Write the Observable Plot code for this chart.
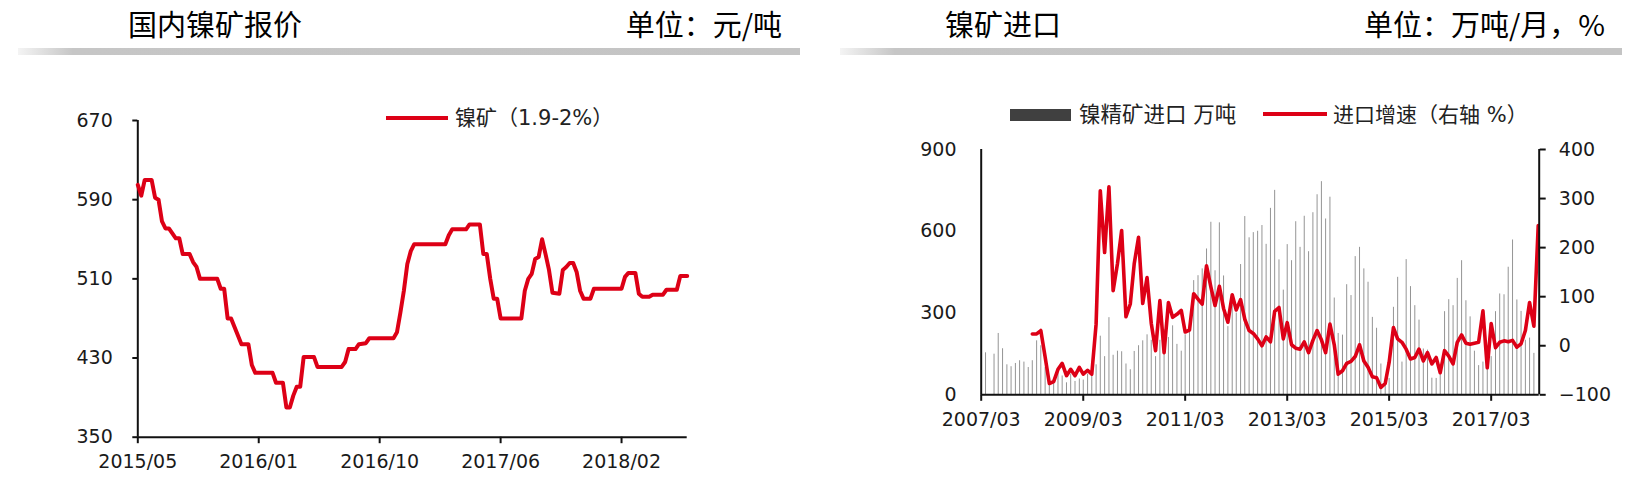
<!DOCTYPE html>
<html><head><meta charset="utf-8">
<script src="https://cdn.jsdelivr.net/npm/d3@7"></script>
<script src="https://cdn.jsdelivr.net/npm/@observablehq/plot@0.6"></script>
<style>
html,body{margin:0;padding:0;background:#fff;}
body{width:1647px;height:482px;overflow:hidden;position:relative;font-family:"Noto Sans CJK SC",sans-serif;}
.abs{position:absolute;}
.title{font-size:29px;line-height:29px;color:#000;white-space:nowrap;}
.gbar{height:7px;background:linear-gradient(to right,#f4f4f4 0%,#c6c6c6 7%,#c4c4c4 100%);}
.leg{font-family:"DejaVu Sans","Noto Sans CJK SC",sans-serif;color:#222;white-space:nowrap;}
.chart svg{display:block;}
</style></head><body>
<div class="abs title" style="left:128px;top:9px;">国内镍矿报价</div>
<div class="abs title" style="right:865px;top:9px;">单位：元/吨</div>
<div class="abs gbar" style="left:18px;top:48px;width:782px;"></div>
<div class="abs title" style="left:945px;top:9px;">镍矿进口</div>
<div class="abs title" style="right:42px;top:9px;">单位：万吨/月，%</div>
<div class="abs gbar" style="left:840px;top:48px;width:782px;"></div>

<div id="left" class="abs chart" style="left:0;top:80px;width:720px;height:400px;"></div>
<div id="rightBars" class="abs chart" style="left:840px;top:80px;width:807px;height:400px;"></div>
<div id="rightLine" class="abs chart" style="left:840px;top:80px;width:807px;height:400px;"></div>

<div class="abs" style="left:386px;top:116px;width:62px;height:4px;background:#dd0016;"></div>
<div class="abs leg" style="left:455px;top:105px;font-size:21px;line-height:26px;">镍矿（1.9-2%）</div>

<div class="abs" style="left:1010px;top:109px;width:61px;height:12px;background:#404040;"></div>
<div class="abs leg" style="left:1079px;top:101px;font-size:21.5px;line-height:28px;">镍精矿进口 万吨</div>
<div class="abs" style="left:1263px;top:112px;width:64px;height:4px;background:#dd0016;"></div>
<div class="abs leg" style="left:1333px;top:101px;font-size:21px;line-height:28px;">进口增速（右轴 %）</div>

<script>
// ---------- Left chart: domestic nickel ore price (weekly index, yuan/ton) ----------
const oreWeek = [0,1,2,4,5,6,7,8,9,10,11,12,13,15,16,17,18,23,24,25,26,27,30,32,33,34,39,40,42,43,44,45,46,47,48,51,52,59,60,61,63,64,66,67,74,75,76,77,78,79,80,89,90,91,95,96,99,100,101,102,103,104,105,111,112,113,114,115,116,117,118,119,120,122,123,124,125,126,127,128,129,131,132,140,141,142,144,145,146,148,149,152,153,156,157,159];
const orePrice = [605,594,610,610,592,590,568,561,561,556,551,551,535,535,527,522,510,510,500,500,470,470,444,444,423,415,415,405,405,380,380,392,401,401,431,431,421,421,426,439,439,444,445,450,450,456,476,498,525,538,545,545,554,560,560,565,565,535,535,510,490,490,470,470,498,510,515,530,532,550,535,519,496,495,519,522,526,526,517,498,490,490,500,500,512,516,516,495,492,492,494,494,499,499,513,513];
const oreTickWeeks = [0,35,70,105,140];
const oreTickLabels = ["2015/05","2016/01","2016/10","2017/06","2018/02"];
const oreYTicks = [350,430,510,590,670];

// ---------- Right chart: nickel concentrate imports ----------
const importStart = "2007-04";   // first bar month
const importTons = [154,0,149,225,169,110,103,115,125,120,
 100,125,198,180,100,40,60,88,69,44,
 76,49,58,54,76,80,110,215,140,283,
 145,160,158,113,92,159,180,198,220,200,
 140,200,240,210,253,185,160,220,230,419,
 437,462,535,633,455,631,436,250,330,300,
 478,654,576,595,600,621,552,684,750,495,
 384,551,492,635,541,655,525,668,734,782,
 645,725,355,225,219,404,364,507,541,462,
 413,284,244,113,40,60,321,431,120,496,
 397,327,274,168,164,61,60,100,305,349,
 327,427,492,345,286,160,107,120,125,140,
 305,370,367,468,568,348,306,200,208,152];
const growthStart = "2008-03";   // first growth month
const growthPct = [24,24,31,-23,-77,-73,-48,-36,-61,-48,
 -61,-44,-58,-50,-58,44,316,190,324,112,
 167,235,59,85,167,221,86,139,46,-10,
 92,-14,88,58,64,72,28,32,106,95,
 85,163,120,82,121,76,48,104,73,94,
 54,31,25,14,0,18,8,70,78,14,
 47,2,-5,-7,8,-14,11,31,12,-14,
 44,2,-58,-51,-36,-32,-22,2,-31,-44,
 -63,-65,-85,-77,-34,37,14,7,-7,-27,
 -24,-7,-31,-14,-37,-24,-55,-10,-21,-37,
 7,22,5,3,5,7,71,-45,45,-4,
 7,10,8,11,-3,4,31,88,40,245];
const xTickLabels = ["2007/03","2009/03","2011/03","2013/03","2015/03","2017/03"];
const leftYTicks = [0,300,600,900];
const rightYTicks = [-100,0,100,200,300,400];

const RED = "#dd0016";
const AXIS = "#111";
const FONT = {fontFamily: "'DejaVu Sans', sans-serif", fontSize: "19px", color: "#1a1a1a", background: "transparent", overflow: "visible"};

// Left chart
const ore = oreWeek.map((w, i) => ({w, p: orePrice[i]}));
const leftPlot = Plot.plot({
  width: 720, height: 400,
  marginLeft: 137.3, marginRight: 33.3, marginTop: 40, marginBottom: 43.3,
  style: FONT,
  x: {domain: [0, 159], label: null},
  y: {domain: [350, 670], label: null},
  marks: [
    Plot.axisY({ticks: oreYTicks, tickSize: 5, tickPadding: 20, label: null, stroke: AXIS, strokeWidth: 2, fill: "#1a1a1a"}),
    Plot.axisX({ticks: oreTickWeeks, tickFormat: d => oreTickLabels[oreTickWeeks.indexOf(d)], tickSize: 6.5, tickPadding: 11, label: null, stroke: AXIS, strokeWidth: 2, fill: "#1a1a1a"}),
    Plot.ruleX([0], {stroke: AXIS, strokeWidth: 2}),
    Plot.ruleY([350], {stroke: AXIS, strokeWidth: 2}),
    Plot.line(ore, {x: "w", y: "p", stroke: RED, strokeWidth: 4, strokeLinejoin: "round"})
  ]
});
document.getElementById("left").append(leftPlot);

// Right chart
const parseM = d3.utcParse("%Y-%m");
const bars = importTons.map((v, i) => ({date: d3.utcMonth.offset(parseM(importStart), i), v}));
const growth = growthPct.map((v, i) => ({date: d3.utcMonth.offset(parseM(growthStart), i), v}));
const xTicks = xTickLabels.map(s => d3.utcParse("%Y/%m")(s));
const xDomain = [new Date(Date.UTC(2007, 2, 1)), new Date(Date.UTC(2018, 1, 8))];

const common = {
  width: 807, height: 400,
  marginLeft: 140.7, marginRight: 108.3, marginTop: 69, marginBottom: 85.7,
  style: FONT
};

const barsPlot = Plot.plot({
  ...common,
  x: {type: "utc", domain: xDomain, label: null},
  y: {domain: [0, 900], label: null},
  marks: [
    Plot.ruleX(bars, {x: "date", y1: 0, y2: "v", stroke: "#3a3a3a", strokeWidth: 0.55}),
    Plot.axisY({ticks: leftYTicks, tickSize: 0, tickPadding: 24.7, label: null, fill: "#1a1a1a"}),
    Plot.axisX({ticks: xTicks, tickFormat: d3.utcFormat("%Y/%m"), tickSize: 6.5, tickPadding: 11, label: null, stroke: AXIS, strokeWidth: 2, fill: "#1a1a1a"}),
    Plot.ruleX([xDomain[0]], {stroke: AXIS, strokeWidth: 2}),
    Plot.ruleY([0], {stroke: AXIS, strokeWidth: 2})
  ]
});
document.getElementById("rightBars").append(barsPlot);

const linePlot = Plot.plot({
  ...common,
  x: {type: "utc", domain: xDomain, label: null, axis: null},
  y: {domain: [-100, 400], label: null},
  marks: [
    Plot.line(growth, {x: "date", y: "v", stroke: RED, strokeWidth: 3.6, strokeLinejoin: "round"}),
    Plot.axisY({anchor: "right", ticks: rightYTicks, tickSize: 6, tickPadding: 13.6, label: null, stroke: AXIS, strokeWidth: 2, fill: "#1a1a1a"}),
    Plot.ruleX([xDomain[1]], {stroke: AXIS, strokeWidth: 2})
  ]
});
document.getElementById("rightLine").append(linePlot);
</script>
</body></html>
